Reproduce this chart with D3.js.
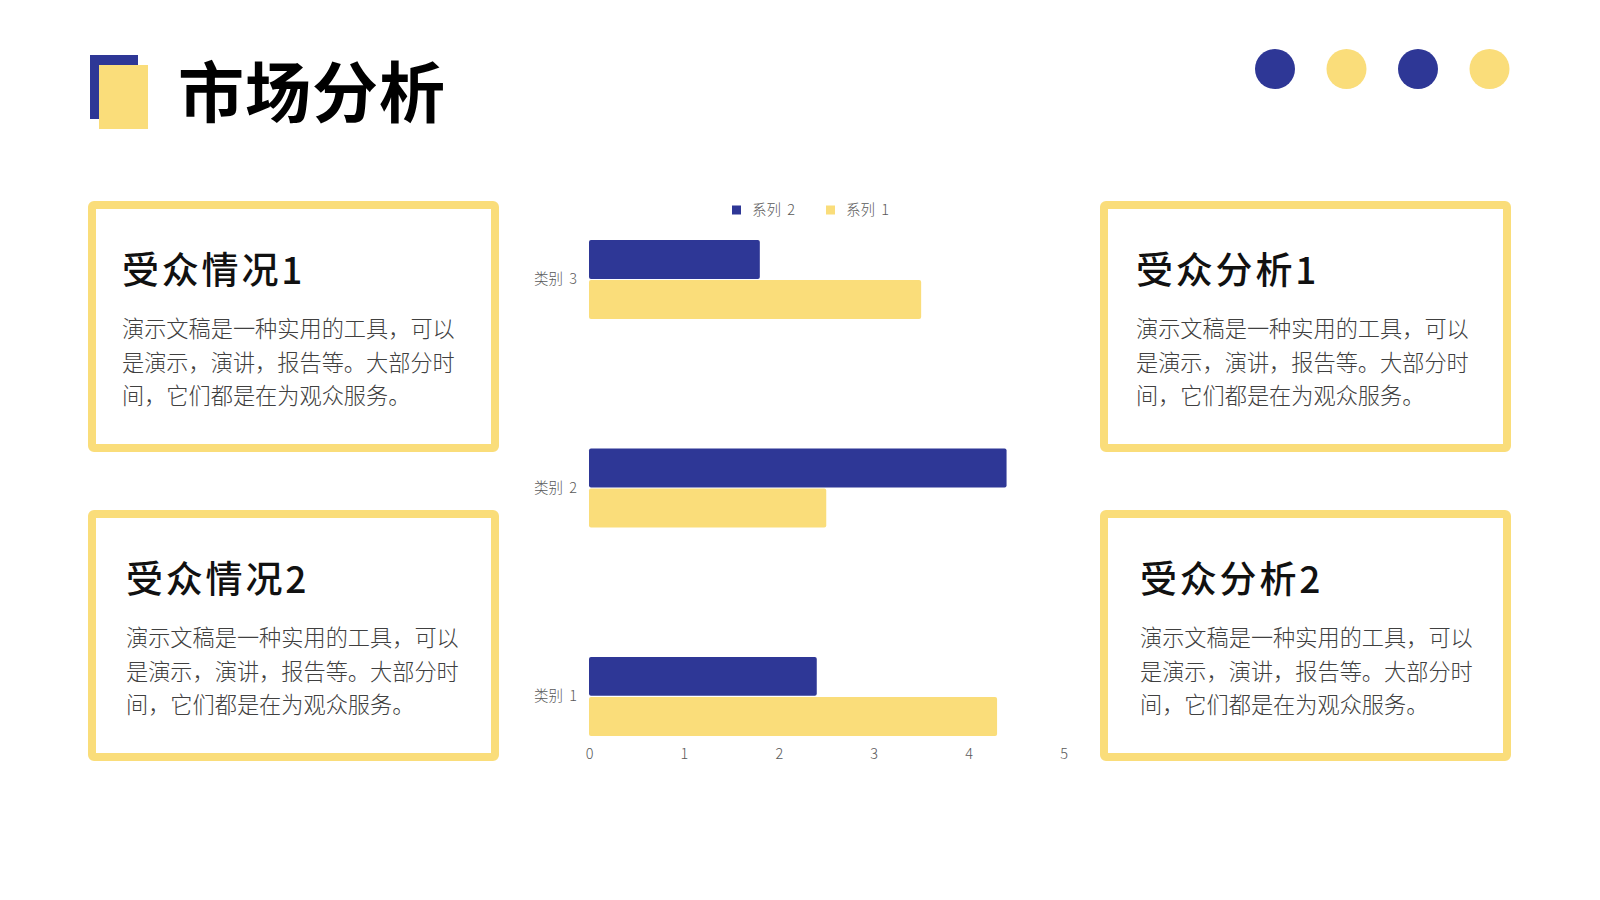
<!DOCTYPE html>
<html>
<head>
<meta charset="utf-8">
<script src="https://cdn.jsdelivr.net/npm/d3@7"></script>
<style>
    html, body { margin: 0; padding: 0; background: #fff; }
    svg { display: block; font-family: "Noto Sans CJK SC", "Noto Sans", sans-serif; }
</style>
</head>
<body>
<svg id="slide" width="1600" height="900"></svg>
<script>
// chart data
var categories = ["类别 3", "类别 2", "类别 1"];
var seriesNames = ["系列 2", "系列 1"];
var series1 = { "类别 1": 4.3, "类别 2": 2.5, "类别 3": 3.5 };
var series2 = { "类别 1": 2.4, "类别 2": 4.4, "类别 3": 1.8 };
var xTicks = [0, 1, 2, 3, 4, 5];

// text blocks
var boxTitles = ["受众情况1", "受众情况2", "受众分析1", "受众分析2"];
var bodyLines = ["演示文稿是一种实用的工具，可以", "是演示，演讲，报告等。大部分时", "间，它们都是在为观众服务。"];

var BLUE = "#2e3796";
var YELLOW = "#fadd7a";

var svg = d3.select("#slide");

// ---- header: logo squares, title, dots
svg.append("rect").attr("x", 90).attr("y", 55).attr("width", 48).attr("height", 64).attr("fill", BLUE);
svg.append("rect").attr("x", 99).attr("y", 65).attr("width", 49).attr("height", 64).attr("fill", YELLOW);

svg.append("text")
    .attr("x", 178).attr("y", 117)
    .attr("font-size", 66).attr("font-weight", 700)
    .attr("letter-spacing", 1)
    .attr("fill", "#000")
    .text("市场分析");

var dotColors = [BLUE, YELLOW, BLUE, YELLOW];
svg.selectAll("circle.dot").data(dotColors).enter().append("circle")
    .attr("class", "dot")
    .attr("cx", function(d, i) { return 1275 + i * 71.5; })
    .attr("cy", 69)
    .attr("r", 20)
    .attr("fill", function(d) { return d; });

// ---- four text boxes
var boxes = [
    { x: 88, y: 201, tx: 34 },
    { x: 88, y: 510, tx: 38 },
    { x: 1100, y: 201, tx: 36 },
    { x: 1100, y: 510, tx: 40 },
];
var boxW = 411, boxH = 251, border = 8;
var headY = 83, bodyY = 136, lineH = 33.5;

var bg = svg.selectAll("g.box").data(boxes).enter().append("g")
    .attr("class", "box")
    .attr("transform", function(d) { return "translate(" + d.x + "," + d.y + ")"; });

bg.append("rect")
    .attr("x", border / 2).attr("y", border / 2)
    .attr("width", boxW - border).attr("height", boxH - border)
    .attr("rx", 2)
    .attr("fill", "#fff")
    .attr("stroke", YELLOW)
    .attr("stroke-width", border);

bg.append("text")
    .attr("x", function(d) { return d.tx; })
    .attr("y", headY)
    .attr("font-size", 37).attr("font-weight", 500)
    .attr("letter-spacing", 2.8)
    .attr("fill", "#111")
    .text(function(d, i) { return boxTitles[i]; });

bg.each(function(d) {
    d3.select(this).selectAll("text.body").data(bodyLines).enter().append("text")
        .attr("class", "body")
        .attr("x", d.tx)
        .attr("y", function(l, j) { return bodyY + j * lineH; })
        .attr("font-size", 22.2)
        .attr("font-weight", 300)
        .attr("fill", "#404040")
        .text(function(l) { return l; });
});

// ---- bar chart
var x = d3.scaleLinear().domain([0, 5]).range([589, 1063.5]);
var y = d3.scaleBand().domain(categories).range([200, 745])
    .paddingInner(0.621).paddingOuter(0.1175).align(0.816);
var ySub = d3.scaleBand().domain(seriesNames).range([0, y.bandwidth()]).paddingInner(0.03);
var color = d3.scaleOrdinal().domain(seriesNames).range([BLUE, YELLOW]);

var chart = svg.append("g").attr("class", "chart");

var rows = categories.map(function(c) {
    return [
        { cat: c, name: "系列 2", value: series2[c] },
        { cat: c, name: "系列 1", value: series1[c] },
    ];
});

chart.selectAll("g.cat").data(rows).enter().append("g")
    .attr("class", "cat")
    .attr("transform", function(d) { return "translate(0," + y(d[0].cat) + ")"; })
    .selectAll("rect").data(function(d) { return d; }).enter().append("rect")
    .attr("x", x(0))
    .attr("y", function(d) { return ySub(d.name); })
    .attr("width", function(d) { return x(d.value) - x(0); })
    .attr("height", ySub.bandwidth())
    .attr("rx", 2)
    .attr("fill", function(d) { return color(d.name); });

// category labels
var yAxis = chart.append("g")
    .attr("transform", "translate(" + (x(0) - 2) + ",0)")
    .call(d3.axisLeft(y).tickSize(0).tickPadding(10));
yAxis.select(".domain").remove();
yAxis.selectAll("text").attr("font-size", 14.5).attr("font-weight", 300).attr("fill", "#595959")
    .attr("word-spacing", 3)
    .style("font-family", "'Noto Sans CJK SC', sans-serif");

// value axis
var xAxis = chart.append("g")
    .attr("transform", "translate(0,745)")
    .call(d3.axisBottom(x).tickValues(xTicks).tickFormat(d3.format("d")).tickSize(0).tickPadding(4));
xAxis.select(".domain").remove();
xAxis.selectAll("text").attr("font-size", 14.5).attr("font-weight", 300).attr("fill", "#595959")
    .style("font-family", "'Noto Sans CJK SC', sans-serif");

// legend
var legend = chart.append("g").attr("transform", "translate(732,210)");
var li = legend.selectAll("g.item").data(seriesNames).enter().append("g")
    .attr("class", "item")
    .attr("transform", function(d, i) { return "translate(" + (i * 94) + ",0)"; });
li.append("rect").attr("x", 0).attr("y", -4.5).attr("width", 9).attr("height", 9)
    .attr("fill", function(d) { return color(d); });
li.append("text").attr("x", 20).attr("y", 5).attr("font-size", 14.5).attr("font-weight", 300)
    .attr("word-spacing", 3).attr("fill", "#595959")
    .text(function(d) { return d; });
</script>
</body>
</html>
